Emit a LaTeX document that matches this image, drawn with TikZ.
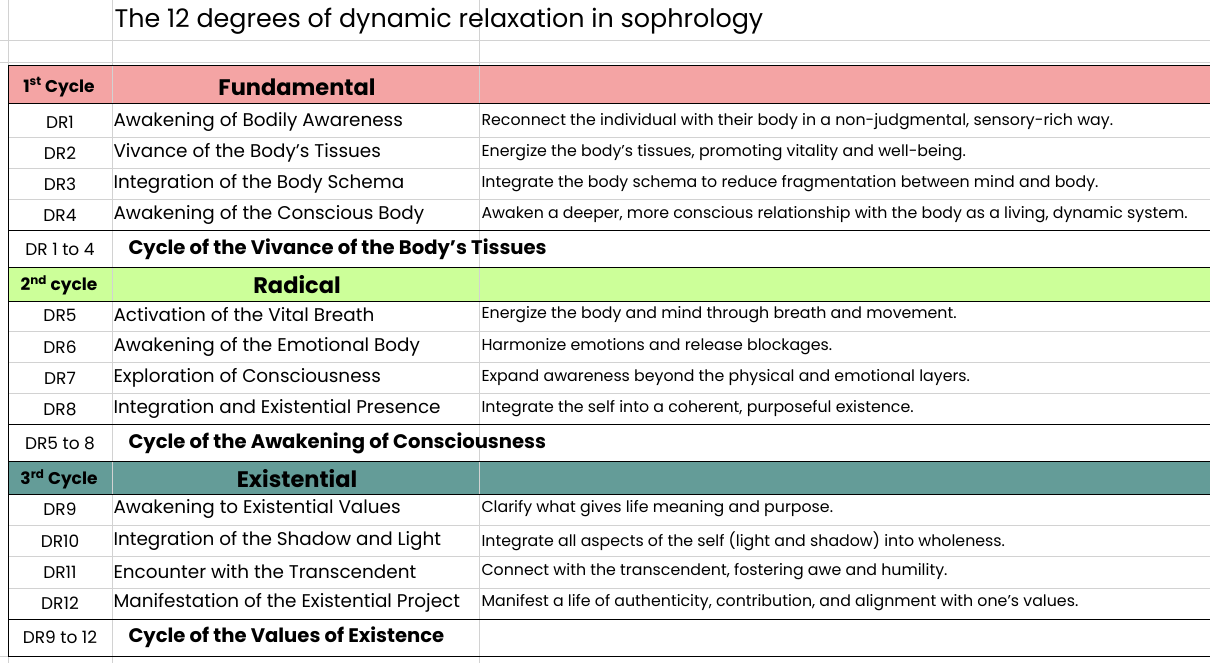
\documentclass[tikz,border=0pt]{standalone}
\usepackage{fontspec}
\setmainfont{Poppins}
\begin{document}
\begin{tikzpicture}[x=1pt,y=-1pt,
 grid/.style={draw=gray!35,line width=0.6pt},
 blk/.style={draw=black,line width=1pt},
 lab/.style={anchor=center,font=\fontsize{17}{19}\selectfont},
 nm/.style={anchor=west,font=\fontsize{18.4}{20}\selectfont},
 ds/.style={anchor=west,font=\fontsize{15.8}{18}\selectfont},
 hd/.style={anchor=center,font=\bfseries\fontsize{22.5}{24}\selectfont},
 cy/.style={anchor=center,font=\bfseries\fontsize{17}{19}\selectfont},
 sm/.style={anchor=west,font=\bfseries\fontsize{19.6}{22}\selectfont}]
\definecolor{pinkh}{HTML}{F4A4A4}
\definecolor{greenh}{HTML}{CCFF99}
\definecolor{tealh}{HTML}{649C98}
\useasboundingbox (0,0) rectangle (1210,663);
\fill[white] (0,0) rectangle (1210,663);
\foreach \yy in {40,62,656} \draw[grid] (0,\yy) -- (1210,\yy);
\foreach \xx in {8,112,479} \draw[grid] (\xx,0) -- (\xx,663);
\foreach \yy in {137,168,199,331,362,393,525,556,588} \draw[grid] (8,\yy) -- (1210,\yy);
\fill[pinkh] (8,66) rectangle (1210,104);
\fill[greenh] (8,267) rectangle (1210,301);
\fill[tealh] (8,461) rectangle (1210,494);
\draw[grid] (112,66) -- (112,104) (479,66)--(479,104);
\draw[grid] (112,267) -- (112,301) (479,267)--(479,301);
\draw[grid] (112,461) -- (112,494) (479,461)--(479,494);
\draw[blk] (8,66) rectangle (1210,104);
\draw[blk] (8,231) rectangle (1210,267);
\draw[blk] (8,267) rectangle (1210,301);
\draw[blk] (8,424) rectangle (1210,461);
\draw[blk] (8,461) rectangle (1210,494);
\draw[blk] (8,619) rectangle (1210,656);
\draw[blk] (8,104) -- (8,231) (8,301)--(8,424) (8,494)--(8,619);
\node[anchor=west,font=\fontsize{25.4}{28}\selectfont] (title) at (111,21) {The 12 degrees of dynamic relaxation in sophrology};
\node[cy] (c1) at (59,87) {1\textsuperscript{st} Cycle};
\node[hd] (h1) at (297,87) {Fundamental};
\node[cy] (c2) at (59,285) {2\textsuperscript{nd} cycle};
\node[hd] (h2) at (297,285) {Radical};
\node[cy] (c3) at (59,479) {3\textsuperscript{rd} Cycle};
\node[hd] (h3) at (297,479) {Existential};
\foreach \n/\yy/\a/\b in {
1/122/Awakening of Bodily Awareness/Reconnect the individual with their body in a non-judgmental{,} sensory-rich way.,
2/153/Vivance of the Body’s Tissues/Energize the body’s tissues{,} promoting vitality and well-being.,
3/184/Integration of the Body Schema/Integrate the body schema to reduce fragmentation between mind and body.,
4/215/Awakening of the Conscious Body/Awaken a deeper{,} more conscious relationship with the body as a living{,} dynamic system.,
5/315/Activation of the Vital Breath/Energize the body and mind through breath and movement.,
6/347/Awakening of the Emotional Body/Harmonize emotions and release blockages.,
7/378/Exploration of Consciousness/Expand awareness beyond the physical and emotional layers.,
8/409/Integration and Existential Presence/Integrate the self into a coherent{,} purposeful existence.,
9/509/Awakening to Existential Values/Clarify what gives life meaning and purpose.,
10/541/Integration of the Shadow and Light/Integrate all aspects of the self (light and shadow) into wholeness.,
11/572/Encounter with the Transcendent/Connect with the transcendent{,} fostering awe and humility.,
12/603/Manifestation of the Existential Project/Manifest a life of authenticity{,} contribution{,} and alignment with one’s values.}
{
 \node[lab] (dr\n) at (60,\yy) {DR\n};
 \node[nm] (nm\n) at (110,\yy) {\a};
 \node[ds] (ds\n) at (478,\yy) {\b};
}
\node[lab] (s1) at (60,249) {DR 1 to 4};
\node[sm] (t1) at (125,249) {Cycle of the Vivance of the Body’s Tissues};
\node[lab] (s2) at (60,443) {DR5 to 8};
\node[sm] (t2) at (125,443) {Cycle of the Awakening of Consciousness};
\node[lab] (s3) at (60,637) {DR9 to 12};
\node[sm] (t3) at (125,637) {Cycle of the Values of Existence};
\end{tikzpicture}
\end{document}
